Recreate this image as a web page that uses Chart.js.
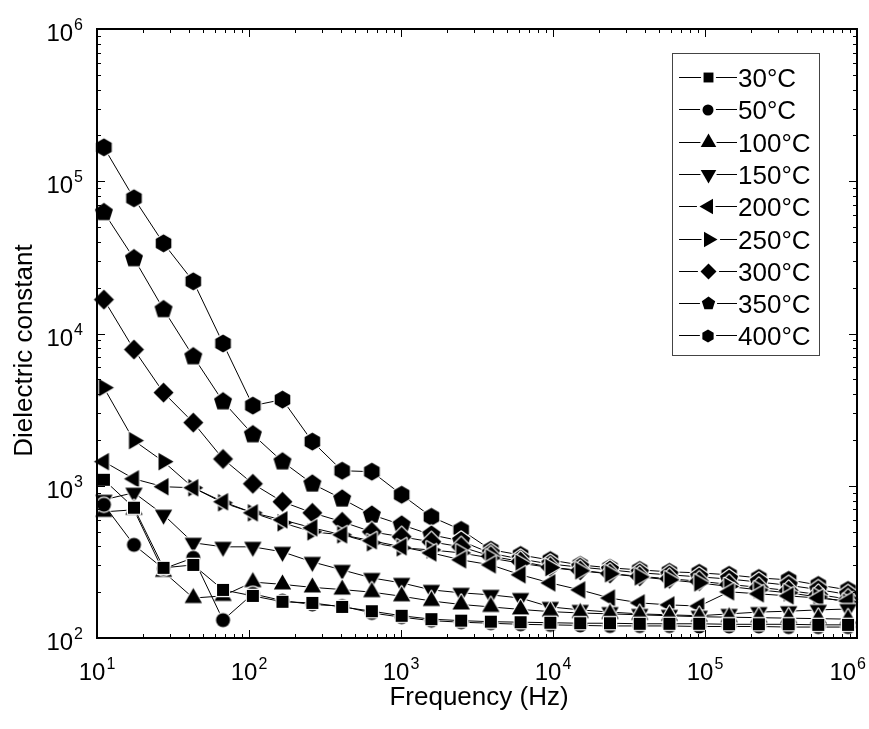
<!DOCTYPE html>
<html lang="en">
<head>
    <meta charset="UTF-8">
    <title>Dielectric constant vs frequency</title>
    <script src="https://cdn.jsdelivr.net/npm/chart.js"></script>
    <style>
        html, body { margin: 0; padding: 0; background: #fff; }
    </style>
</head>
<body>
    <canvas id="chart" width="869" height="729"></canvas>

    <script>
        // frequency points (Hz)
        const frequencies = [11.1, 17.5, 27.4, 43.0, 67.5, 106, 166, 261, 410, 643, 1010, 1585, 2488,
            3900, 6120, 9610, 15100, 23700, 37200, 58300, 91600, 144000, 226000, 355000, 556000, 873000];

        const temps = ['30°C', '50°C', '100°C', '150°C', '200°C', '250°C', '300°C', '350°C', '400°C'];

        // dielectric constant per temperature
        const t30 = [1094, 717, 289, 302, 207, 189, 173, 170, 160, 150, 140, 133, 130, 128, 127, 126, 125, 125, 124, 124, 124, 123, 123, 123, 122, 122];
        const t50 = [750, 409, 285, 336, 131, 195, 176, 166, 162, 146, 137, 130, 127, 125, 123, 122, 121, 120, 120, 120, 119, 119, 119, 118, 118, 118];
        const t100 = [674, 695, 272, 183, 189, 233, 225, 215, 208, 200, 188, 175, 166, 160, 154, 149, 146, 144, 142, 140, 138, 137, 136, 135, 134, 133];
        const t150 = [809, 900, 645, 422, 397, 397, 368, 316, 280, 248, 230, 207, 198, 192, 183, 160, 153, 148, 144, 142, 140, 144, 148, 150, 153, 155];
        const t200 = [1440, 1110, 985, 970, 785, 664, 597, 529, 476, 435, 397, 362, 326, 302, 260, 230, 207, 183, 170, 165, 162, 201, 195, 189, 183, 175];
        const t250 = [4410, 1980, 1440, 970, 773, 664, 571, 498, 476, 422, 391, 379, 362, 335, 310, 290, 276, 264, 252, 241, 230, 218, 207, 198, 186, 172];
        const t300 = [16700, 7850, 4090, 2600, 1500, 1030, 785, 664, 580, 498, 462, 428, 397, 345, 318, 292, 278, 265, 254, 245, 236, 225, 215, 205, 193, 180];
        const t350 = [62500, 31100, 14400, 7060, 3570, 2170, 1440, 1030, 821, 644, 554, 476, 434, 360, 330, 306, 292, 280, 268, 260, 252, 244, 233, 222, 208, 193];
        const t400 = [167000, 77300, 39100, 22000, 8600, 3360, 3680, 1950, 1255, 1237, 873, 625, 513, 380, 351, 325, 302, 289, 280, 272, 268, 260, 248, 241, 223, 207];

        const seriesList = [t30, t50, t100, t150, t200, t250, t300, t350, t400];
        const shapes = ['square', 'circle', 'up', 'down', 'left', 'right', 'diamond', 'pentagon', 'hexagon'];
        const plotSize = [8.5, 7, 10, 10, 10, 10, 10, 9.5, 9];
        const legendSize = [7, 5.5, 9, 9, 9, 9, 8, 7, 6.5];

        const fontFamily = '"Liberation Sans", Arial, sans-serif';

        // black marker with a white rim, like the original plot
        function makeMarker(shape, R, rim) {
            const size = Math.ceil(2 * (R + rim + 1));
            const c = document.createElement('canvas');
            c.width = size;
            c.height = size;
            const g = c.getContext('2d');
            const cx = size / 2, cy = size / 2;
            g.beginPath();
            if (shape === 'circle') {
                g.arc(cx, cy, R, 0, Math.PI * 2);
            } else {
                const spec = {
                    square: [4, Math.PI / 4], diamond: [4, -Math.PI / 2],
                    up: [3, -Math.PI / 2], down: [3, Math.PI / 2], left: [3, Math.PI], right: [3, 0],
                    pentagon: [5, -Math.PI / 2], hexagon: [6, -Math.PI / 2]
                }[shape];
                for (let k = 0; k < spec[0]; k++) {
                    const a = spec[1] + k * 2 * Math.PI / spec[0];
                    const px = cx + R * Math.cos(a), py = cy + R * Math.sin(a);
                    if (k === 0) g.moveTo(px, py); else g.lineTo(px, py);
                }
                g.closePath();
            }
            g.lineJoin = 'round';
            g.lineWidth = rim * 2;
            g.strokeStyle = '#fff';
            g.stroke();
            g.fillStyle = '#000';
            g.fill();
            return c;
        }

        const plotMarkers = shapes.map((s, i) => makeMarker(s, plotSize[i], 1.2));
        const legendMarkers = shapes.map((s, i) => makeMarker(s, legendSize[i], 2.5));

        function drawPow(ctx, e, x, baseline, align, maxRight) {
            ctx.font = '24px ' + fontFamily;
            const wb = ctx.measureText('10').width;
            ctx.font = '16px ' + fontFamily;
            const ws = ctx.measureText(String(e)).width;
            const total = wb + 1 + ws;
            let left = align === 'center' ? x - total / 2 : x - total;
            if (maxRight && left + total > maxRight) left = maxRight - total;
            ctx.textAlign = 'left';
            ctx.textBaseline = 'alphabetic';
            ctx.font = '24px ' + fontFamily;
            ctx.fillText('10', left, baseline);
            ctx.font = '16px ' + fontFamily;
            ctx.fillText(String(e), left + wb + 1, baseline - 11);
        }

        const framePlugin = {
            id: 'frame',
            afterDatasetsDraw(chart) {
                const { ctx, chartArea: a, scales: { x, y } } = chart;
                ctx.save();
                ctx.strokeStyle = '#000';
                ctx.fillStyle = '#000';

                // inward ticks on all four sides
                ctx.lineWidth = 1;
                ctx.beginPath();
                for (let d = 1; d <= 6; d++) {
                    for (let m = 1; m <= 9; m++) {
                        if (d === 6 && m > 1) break;
                        const v = m * Math.pow(10, d);
                        const len = m === 1 ? 8 : 4;
                        const px = Math.round(x.getPixelForValue(v)) + 0.5;
                        ctx.moveTo(px, a.bottom); ctx.lineTo(px, a.bottom - len);
                        ctx.moveTo(px, a.top); ctx.lineTo(px, a.top + len);
                    }
                }
                for (let d = 2; d <= 6; d++) {
                    for (let m = 1; m <= 9; m++) {
                        if (d === 6 && m > 1) break;
                        const v = m * Math.pow(10, d);
                        const len = m === 1 ? 8 : 4;
                        const py = Math.round(y.getPixelForValue(v)) + 0.5;
                        ctx.moveTo(a.left, py); ctx.lineTo(a.left + len, py);
                        ctx.moveTo(a.right, py); ctx.lineTo(a.right - len, py);
                    }
                }
                ctx.stroke();

                ctx.lineWidth = 2;
                ctx.strokeRect(a.left, a.top, a.right - a.left, a.bottom - a.top);

                // tick labels
                for (let d = 1; d <= 6; d++) {
                    drawPow(ctx, d, x.getPixelForValue(Math.pow(10, d)), a.bottom + 42, 'center', chart.width - 3);
                }
                for (let d = 2; d <= 6; d++) {
                    drawPow(ctx, d, a.left - 14, y.getPixelForValue(Math.pow(10, d)) + 12, 'right');
                }

                // axis titles
                ctx.font = '26px ' + fontFamily;
                ctx.textAlign = 'center';
                ctx.textBaseline = 'alphabetic';
                ctx.fillText('Frequency (Hz)', (a.left + a.right) / 2 + 2, a.bottom + 67);
                ctx.save();
                ctx.translate(32, (a.top + a.bottom) / 2 + 17);
                ctx.rotate(-Math.PI / 2);
                ctx.fillText('Dielectric constant', 0, 0);
                ctx.restore();

                // legend
                const lx = a.right - 185, ly = a.top + 24;
                ctx.lineWidth = 1;
                ctx.strokeStyle = '#444';
                ctx.strokeRect(lx + 0.5, ly + 0.5, 147, 302);
                ctx.strokeStyle = '#000';
                temps.forEach((t, i) => {
                    const ry = Math.round(ly + 24 + i * 32.3) + 0.5;
                    ctx.beginPath();
                    ctx.moveTo(lx + 7, ry);
                    ctx.lineTo(lx + 65, ry);
                    ctx.stroke();
                    const mk = legendMarkers[i];
                    ctx.drawImage(mk, Math.round(lx + 36 - mk.width / 2), Math.round(ry - mk.height / 2));
                    ctx.font = '26px ' + fontFamily;
                    ctx.textAlign = 'left';
                    ctx.fillText(t, lx + 66, ry + 9);
                });
                ctx.restore();
            }
        };

        const ctx = document.getElementById('chart').getContext('2d');
        new Chart(ctx, {
            type: 'scatter',
            data: {
                datasets: temps.map((t, i) => ({
                    label: t,
                    data: frequencies.map((f, j) => ({ x: f, y: seriesList[i][j] })),
                    showLine: true,
                    borderColor: '#000',
                    borderWidth: 1,
                    pointStyle: plotMarkers[i],
                    pointRadius: 8,
                    clip: false
                }))
            },
            options: {
                responsive: false,
                animation: false,
                layout: { padding: { left: 97, top: 29, right: 12, bottom: 91 } },
                scales: {
                    x: { type: 'logarithmic', min: 10, max: 1e6, display: false },
                    y: { type: 'logarithmic', min: 100, max: 1e6, display: false }
                },
                plugins: {
                    legend: { display: false },
                    tooltip: { enabled: false }
                }
            },
            plugins: [framePlugin]
        });
    </script>
</body>
</html>
